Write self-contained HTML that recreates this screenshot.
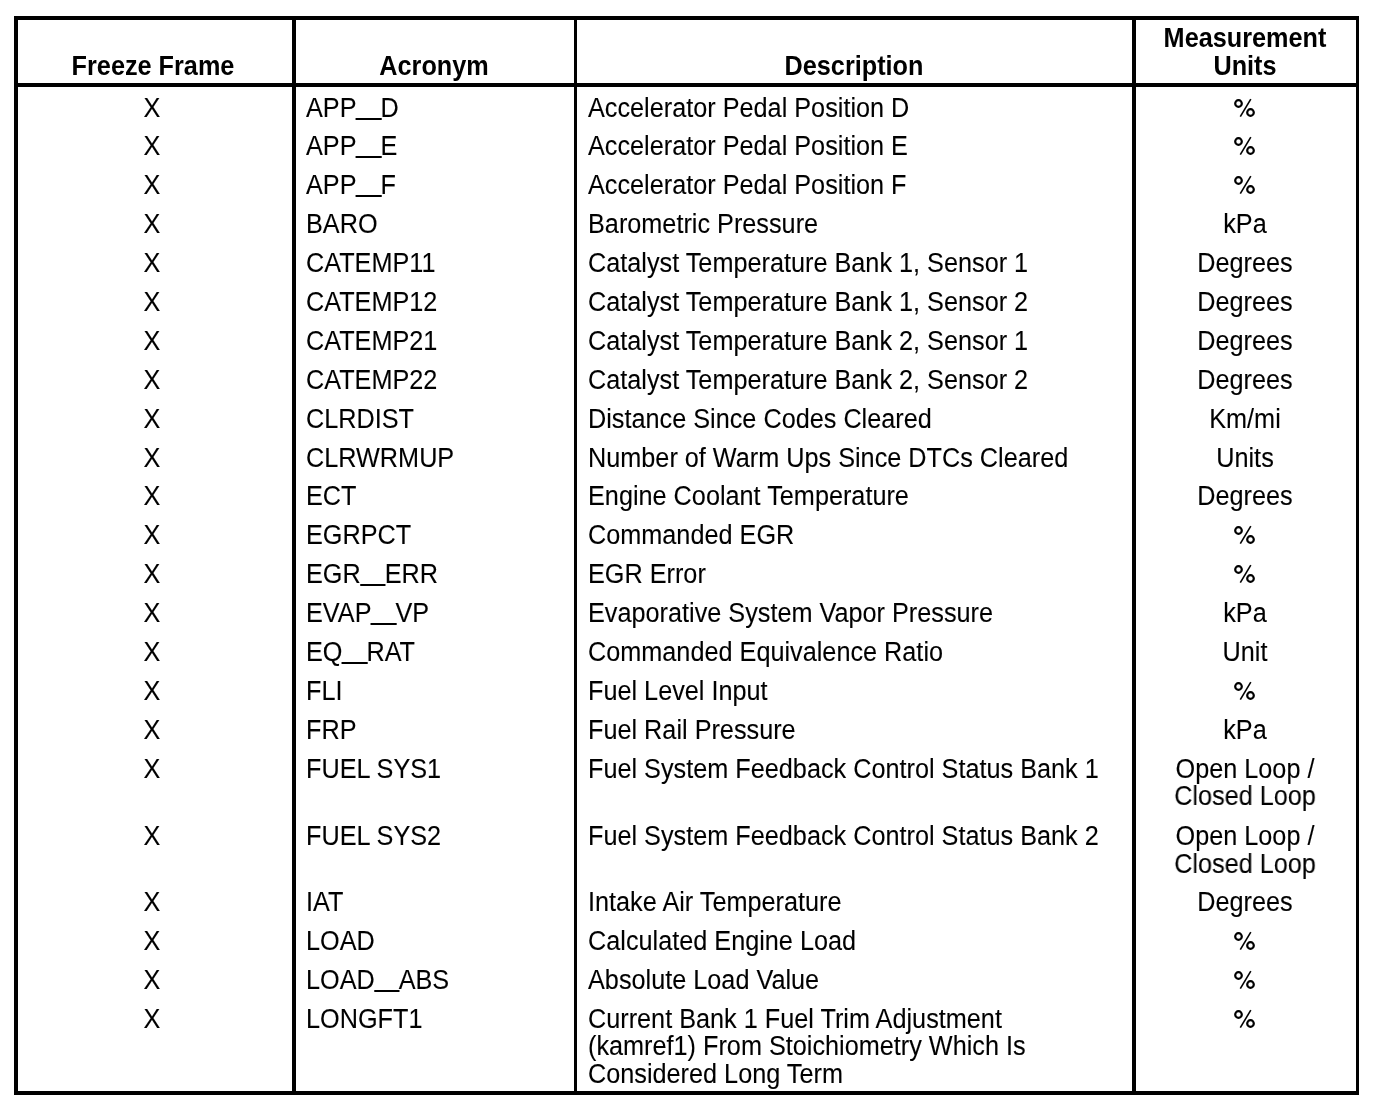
<!DOCTYPE html>
<html><head><meta charset="utf-8"><style>
html,body{margin:0;padding:0;background:#fff;width:1392px;height:1112px;overflow:hidden;position:relative}
#w{position:absolute;left:0;top:0;width:1392px;height:1112px;background:#fff;will-change:transform}
.r{position:absolute;background:#000}
.l,.c{position:absolute;white-space:nowrap;font-family:"Liberation Sans",sans-serif;font-size:27px;line-height:normal;color:#000}
.l{transform:scaleX(0.935);transform-origin:0 0}
.c{width:500px;text-align:center;transform:scaleX(0.935);transform-origin:50% 0}
.p{position:absolute}
.b{font-weight:bold;-webkit-text-stroke:0px #000}
.u{display:inline-block;width:27.8px;height:2.0px;background:#000;vertical-align:-2.5px;margin:0 -1.2px 0 -1.0px}
body{-webkit-text-stroke:0.1px #000}
</style></head><body><div id="w">
<div class="r" style="left:14px;top:16px;width:1345px;height:4px"></div>
<div class="r" style="left:14px;top:1091px;width:1345px;height:4px"></div>
<div class="r" style="left:14px;top:16px;width:4px;height:1079px"></div>
<div class="r" style="left:1356px;top:16px;width:3px;height:1079px"></div>
<div class="r" style="left:14px;top:83px;width:1345px;height:4px"></div>
<div class="r" style="left:292px;top:16px;width:4px;height:1079px"></div>
<div class="r" style="left:574px;top:16px;width:3px;height:1079px"></div>
<div class="r" style="left:1132px;top:16px;width:4px;height:1079px"></div>
<div class="b c" style="left:-97.5px;top:51px">Freeze Frame</div>
<div class="b c" style="left:183.5px;top:51px">Acronym</div>
<div class="b c" style="left:603.5px;top:51px">Description</div>
<div class="b c" style="left:994.5px;top:23px">Measurement</div>
<div class="b c" style="left:994.5px;top:51px">Units</div>
<div class="c" style="left:-98px;top:93px">X</div>
<div class="l" style="left:306px;top:93px">APP<span class="u"></span>D</div>
<div class="l" style="left:588px;top:93px">Accelerator Pedal Position D</div>
<svg class="p" style="left:1230px;top:94px" width="30" height="24" viewBox="0 0 30 24"><circle cx="8.5" cy="9.5" r="3.3" fill="none" stroke="#000" stroke-width="2.2"/><circle cx="20.5" cy="18.5" r="3.3" fill="none" stroke="#000" stroke-width="2.2"/><path d="M10.3 22.6L20.8 5.2" stroke="#000" stroke-width="1.6" fill="none"/></svg>
<div class="c" style="left:-98px;top:131px">X</div>
<div class="l" style="left:306px;top:131px">APP<span class="u"></span>E</div>
<div class="l" style="left:588px;top:131px">Accelerator Pedal Position E</div>
<svg class="p" style="left:1230px;top:132px" width="30" height="24" viewBox="0 0 30 24"><circle cx="8.5" cy="9.5" r="3.3" fill="none" stroke="#000" stroke-width="2.2"/><circle cx="20.5" cy="18.5" r="3.3" fill="none" stroke="#000" stroke-width="2.2"/><path d="M10.3 22.6L20.8 5.2" stroke="#000" stroke-width="1.6" fill="none"/></svg>
<div class="c" style="left:-98px;top:170px">X</div>
<div class="l" style="left:306px;top:170px">APP<span class="u"></span>F</div>
<div class="l" style="left:588px;top:170px">Accelerator Pedal Position F</div>
<svg class="p" style="left:1230px;top:171px" width="30" height="24" viewBox="0 0 30 24"><circle cx="8.5" cy="9.5" r="3.3" fill="none" stroke="#000" stroke-width="2.2"/><circle cx="20.5" cy="18.5" r="3.3" fill="none" stroke="#000" stroke-width="2.2"/><path d="M10.3 22.6L20.8 5.2" stroke="#000" stroke-width="1.6" fill="none"/></svg>
<div class="c" style="left:-98px;top:209px">X</div>
<div class="l" style="left:306px;top:209px">BARO</div>
<div class="l" style="left:588px;top:209px">Barometric Pressure</div>
<div class="c" style="left:994.5px;top:209px">kPa</div>
<div class="c" style="left:-98px;top:248px">X</div>
<div class="l" style="left:306px;top:248px">CATEMP11</div>
<div class="l" style="left:588px;top:248px">Catalyst Temperature Bank 1, Sensor 1</div>
<div class="c" style="left:994.5px;top:248px">Degrees</div>
<div class="c" style="left:-98px;top:287px">X</div>
<div class="l" style="left:306px;top:287px">CATEMP12</div>
<div class="l" style="left:588px;top:287px">Catalyst Temperature Bank 1, Sensor 2</div>
<div class="c" style="left:994.5px;top:287px">Degrees</div>
<div class="c" style="left:-98px;top:326px">X</div>
<div class="l" style="left:306px;top:326px">CATEMP21</div>
<div class="l" style="left:588px;top:326px">Catalyst Temperature Bank 2, Sensor 1</div>
<div class="c" style="left:994.5px;top:326px">Degrees</div>
<div class="c" style="left:-98px;top:365px">X</div>
<div class="l" style="left:306px;top:365px">CATEMP22</div>
<div class="l" style="left:588px;top:365px">Catalyst Temperature Bank 2, Sensor 2</div>
<div class="c" style="left:994.5px;top:365px">Degrees</div>
<div class="c" style="left:-98px;top:404px">X</div>
<div class="l" style="left:306px;top:404px">CLRDIST</div>
<div class="l" style="left:588px;top:404px">Distance Since Codes Cleared</div>
<div class="c" style="left:994.5px;top:404px">Km/mi</div>
<div class="c" style="left:-98px;top:443px">X</div>
<div class="l" style="left:306px;top:443px">CLRWRMUP</div>
<div class="l" style="left:588px;top:443px">Number of Warm Ups Since DTCs Cleared</div>
<div class="c" style="left:994.5px;top:443px">Units</div>
<div class="c" style="left:-98px;top:481px">X</div>
<div class="l" style="left:306px;top:481px">ECT</div>
<div class="l" style="left:588px;top:481px">Engine Coolant Temperature</div>
<div class="c" style="left:994.5px;top:481px">Degrees</div>
<div class="c" style="left:-98px;top:520px">X</div>
<div class="l" style="left:306px;top:520px">EGRPCT</div>
<div class="l" style="left:588px;top:520px">Commanded EGR</div>
<svg class="p" style="left:1230px;top:521px" width="30" height="24" viewBox="0 0 30 24"><circle cx="8.5" cy="9.5" r="3.3" fill="none" stroke="#000" stroke-width="2.2"/><circle cx="20.5" cy="18.5" r="3.3" fill="none" stroke="#000" stroke-width="2.2"/><path d="M10.3 22.6L20.8 5.2" stroke="#000" stroke-width="1.6" fill="none"/></svg>
<div class="c" style="left:-98px;top:559px">X</div>
<div class="l" style="left:306px;top:559px">EGR<span class="u"></span>ERR</div>
<div class="l" style="left:588px;top:559px">EGR Error</div>
<svg class="p" style="left:1230px;top:560px" width="30" height="24" viewBox="0 0 30 24"><circle cx="8.5" cy="9.5" r="3.3" fill="none" stroke="#000" stroke-width="2.2"/><circle cx="20.5" cy="18.5" r="3.3" fill="none" stroke="#000" stroke-width="2.2"/><path d="M10.3 22.6L20.8 5.2" stroke="#000" stroke-width="1.6" fill="none"/></svg>
<div class="c" style="left:-98px;top:598px">X</div>
<div class="l" style="left:306px;top:598px">EVAP<span class="u"></span>VP</div>
<div class="l" style="left:588px;top:598px">Evaporative System Vapor Pressure</div>
<div class="c" style="left:994.5px;top:598px">kPa</div>
<div class="c" style="left:-98px;top:637px">X</div>
<div class="l" style="left:306px;top:637px">EQ<span class="u"></span>RAT</div>
<div class="l" style="left:588px;top:637px">Commanded Equivalence Ratio</div>
<div class="c" style="left:994.5px;top:637px">Unit</div>
<div class="c" style="left:-98px;top:676px">X</div>
<div class="l" style="left:306px;top:676px">FLI</div>
<div class="l" style="left:588px;top:676px">Fuel Level Input</div>
<svg class="p" style="left:1230px;top:677px" width="30" height="24" viewBox="0 0 30 24"><circle cx="8.5" cy="9.5" r="3.3" fill="none" stroke="#000" stroke-width="2.2"/><circle cx="20.5" cy="18.5" r="3.3" fill="none" stroke="#000" stroke-width="2.2"/><path d="M10.3 22.6L20.8 5.2" stroke="#000" stroke-width="1.6" fill="none"/></svg>
<div class="c" style="left:-98px;top:715px">X</div>
<div class="l" style="left:306px;top:715px">FRP</div>
<div class="l" style="left:588px;top:715px">Fuel Rail Pressure</div>
<div class="c" style="left:994.5px;top:715px">kPa</div>
<div class="c" style="left:-98px;top:754px">X</div>
<div class="l" style="left:306px;top:754px">FUEL SYS1</div>
<div class="l" style="left:588px;top:754px">Fuel System Feedback Control Status Bank 1</div>
<div class="c" style="left:994.5px;top:754px">Open Loop /</div>
<div class="c" style="left:994.5px;top:781px">Closed Loop</div>
<div class="c" style="left:-98px;top:821px">X</div>
<div class="l" style="left:306px;top:821px">FUEL SYS2</div>
<div class="l" style="left:588px;top:821px">Fuel System Feedback Control Status Bank 2</div>
<div class="c" style="left:994.5px;top:821px">Open Loop /</div>
<div class="c" style="left:994.5px;top:849px">Closed Loop</div>
<div class="c" style="left:-98px;top:887px">X</div>
<div class="l" style="left:306px;top:887px">IAT</div>
<div class="l" style="left:588px;top:887px">Intake Air Temperature</div>
<div class="c" style="left:994.5px;top:887px">Degrees</div>
<div class="c" style="left:-98px;top:926px">X</div>
<div class="l" style="left:306px;top:926px">LOAD</div>
<div class="l" style="left:588px;top:926px">Calculated Engine Load</div>
<svg class="p" style="left:1230px;top:927px" width="30" height="24" viewBox="0 0 30 24"><circle cx="8.5" cy="9.5" r="3.3" fill="none" stroke="#000" stroke-width="2.2"/><circle cx="20.5" cy="18.5" r="3.3" fill="none" stroke="#000" stroke-width="2.2"/><path d="M10.3 22.6L20.8 5.2" stroke="#000" stroke-width="1.6" fill="none"/></svg>
<div class="c" style="left:-98px;top:965px">X</div>
<div class="l" style="left:306px;top:965px">LOAD<span class="u"></span>ABS</div>
<div class="l" style="left:588px;top:965px">Absolute Load Value</div>
<svg class="p" style="left:1230px;top:966px" width="30" height="24" viewBox="0 0 30 24"><circle cx="8.5" cy="9.5" r="3.3" fill="none" stroke="#000" stroke-width="2.2"/><circle cx="20.5" cy="18.5" r="3.3" fill="none" stroke="#000" stroke-width="2.2"/><path d="M10.3 22.6L20.8 5.2" stroke="#000" stroke-width="1.6" fill="none"/></svg>
<div class="c" style="left:-98px;top:1004px">X</div>
<div class="l" style="left:306px;top:1004px">LONGFT1</div>
<div class="l" style="left:588px;top:1004px">Current Bank 1 Fuel Trim Adjustment</div>
<div class="l" style="left:588px;top:1031px">(kamref1) From Stoichiometry Which Is</div>
<div class="l" style="left:588px;top:1059px">Considered Long Term</div>
<svg class="p" style="left:1230px;top:1005px" width="30" height="24" viewBox="0 0 30 24"><circle cx="8.5" cy="9.5" r="3.3" fill="none" stroke="#000" stroke-width="2.2"/><circle cx="20.5" cy="18.5" r="3.3" fill="none" stroke="#000" stroke-width="2.2"/><path d="M10.3 22.6L20.8 5.2" stroke="#000" stroke-width="1.6" fill="none"/></svg>
</div></body></html>
